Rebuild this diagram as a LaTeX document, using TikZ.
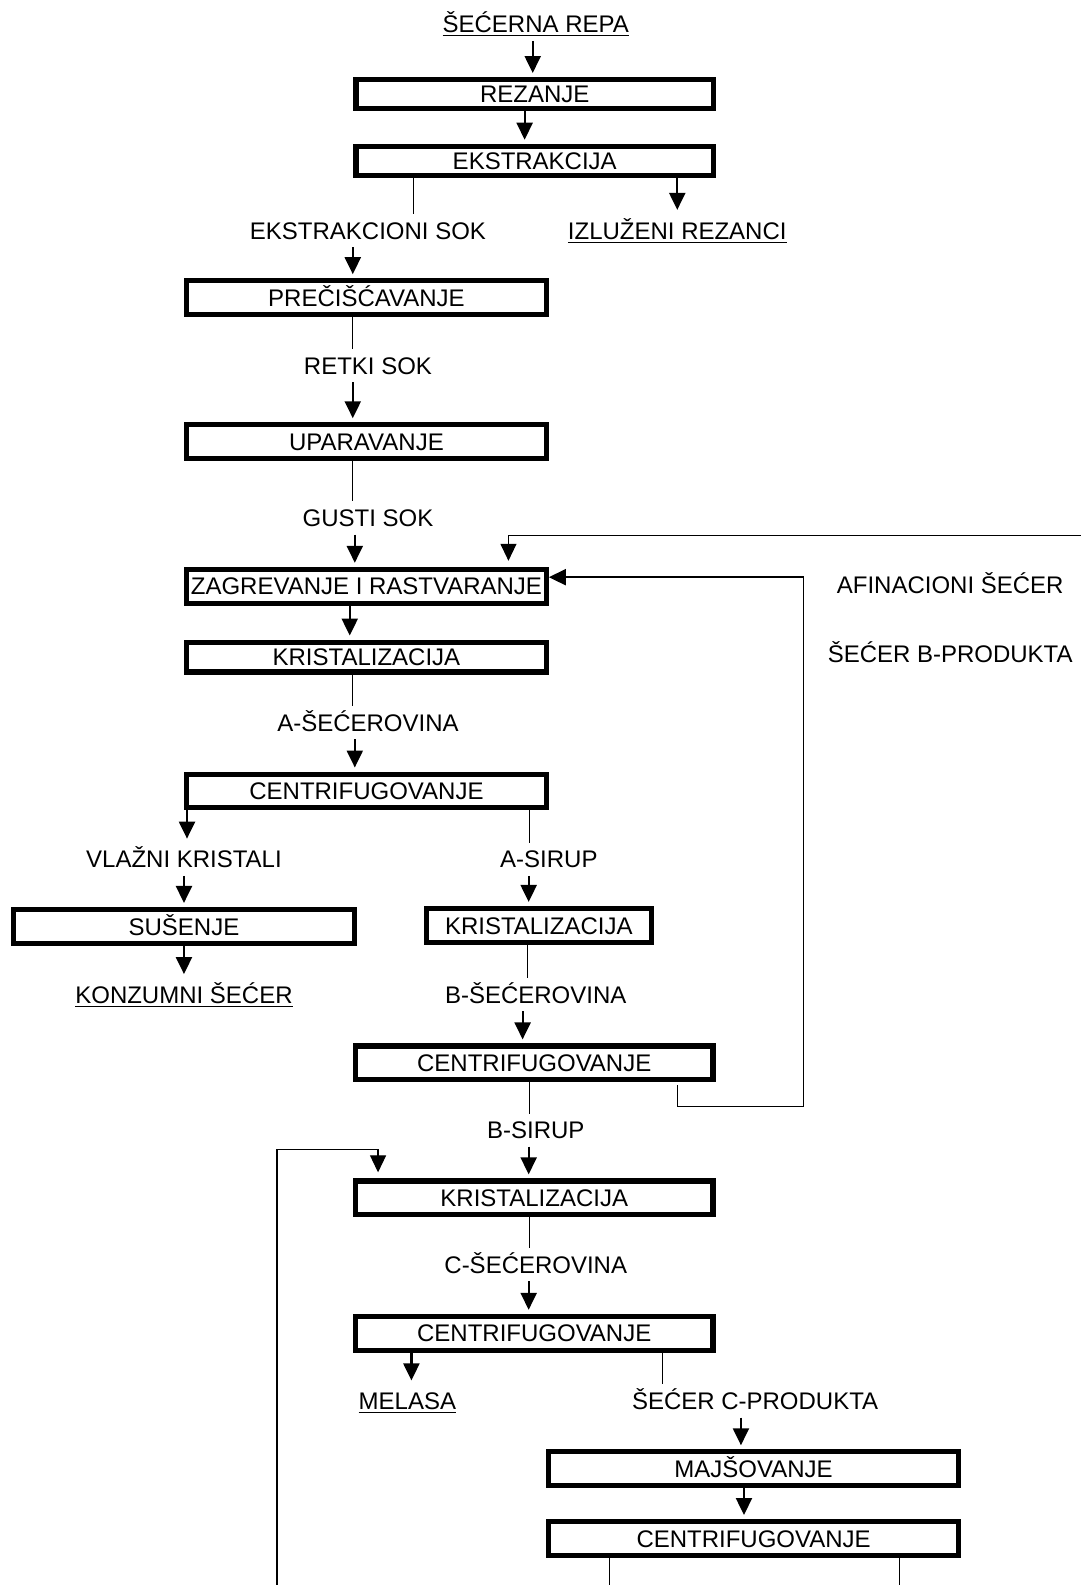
\documentclass[tikz,border=0pt]{standalone}
\usepackage{fontspec}
\setmainfont{Liberation Sans}
\usetikzlibrary{arrows.meta}

\tikzset{
  stage/.style={draw, line width=2.6pt, inner sep=0pt, text height=8.6pt, text depth=0pt, minimum height=16.9pt, minimum width=178.9pt},
  tag/.style={inner sep=0pt, text height=8.6pt, text depth=0pt, outer ysep=4pt},
  flow/.style={line width=1.1pt, -{Triangle[width=8pt,length=8.5pt]}, shorten >=2pt},
  link/.style={line width=0.6pt},
  feed/.style={link, -{Triangle[width=8pt,length=8.5pt]}, shorten >=3pt}
}

\begin{document}
\begin{tikzpicture}[x=0.5056pt, y=-0.5056pt, font=\fontsize{12}{14}\selectfont]
	\useasboundingbox (0,0) rectangle (1069,1568);
	\node[tag] (repa) at (530,24) {\underline{ŠEĆERNA REPA}};
	\node[stage, minimum height=14.4pt] (rez) at (529,93) {REZANJE};
	\node[stage, minimum height=14.4pt] (ekstr) at (529,159) {EKSTRAKCIJA};
	\node[tag] (eksok) at (364,228) {EKSTRAKCIONI SOK};
	\node[tag] (izluz) at (670,228) {\underline{IZLUŽENI REZANCI}};
	\node[stage, minimum width=179.9pt] (precis) at (362.5,294.5) {PREČIŠĆAVANJE};
	\node[tag] (retki) at (364,361.5) {RETKI SOK};
	\node[stage, minimum width=179.9pt] (upar) at (362.5,437) {UPARAVANJE};
	\node[tag] (gusti) at (364,512.5) {GUSTI SOK};
	\node[stage, minimum width=179.9pt] (zagr) at (362.5,580) {ZAGREVANJE I RASTVARANJE};
	\node[tag] (afin) at (940,579) {AFINACIONI ŠEĆER};
	\node[tag] (secb) at (940,647) {ŠEĆER B-PRODUKTA};
	\node[stage, minimum width=179.9pt, minimum height=14.9pt] (krist1) at (362.5,650) {KRISTALIZACIJA};
	\node[tag] (asec) at (364,715) {A-ŠEĆEROVINA};
	\node[stage, minimum width=179.9pt] (centr1) at (362.5,782.5) {CENTRIFUGOVANJE};
	\node[tag] (vlaz) at (182,850) {VLAŽNI KRISTALI};
	\node[tag] (asir) at (543,850) {A-SIRUP};
	\node[stage, minimum width=170.3pt] (susenje) at (182,916.5) {SUŠENJE};
	\node[tag] (konz) at (182,984) {\underline{KONZUMNI ŠEĆER}};
	\node[stage, minimum width=112.7pt] (krist2) at (533,915.5) {KRISTALIZACIJA};
	\node[tag] (bsec) at (530,984) {B-ŠEĆEROVINA};
	\node[stage] (centr2) at (528.5,1051.5) {CENTRIFUGOVANJE};
	\node[tag] (bsir) at (530,1118) {B-SIRUP};
	\node[stage] (krist3) at (528.5,1185) {KRISTALIZACIJA};
	\node[tag] (csec) at (530,1251) {C-ŠEĆEROVINA};
	\node[stage] (centr3) at (528.5,1319) {CENTRIFUGOVANJE};
	\node[tag] (melasa) at (403,1386) {\underline{MELASA}};
	\node[tag] (secc) at (747,1386) {ŠEĆER C-PRODUKTA};
	\node[stage, minimum width=205.2pt] (majs) at (745.5,1453) {MAJŠOVANJE};
	\node[stage, minimum width=205.2pt] (centr4) at (745.5,1522) {CENTRIFUGOVANJE};
	\coordinate (topin) at (1069,530);
	\coordinate (afc) at (795,571);
	\coordinate (bturn) at (795,1095);
	\coordinate (botin) at (274,1568);
	\coordinate (cturn) at (374,1137);
	\coordinate (outa) at (603,1568);
	\coordinate (outb) at (890,1568);
	\draw[flow] (repa.south -| 527,0) -- (rez.north -| 527,0);
	\draw[flow] (rez.south -| 519,0) -- (ekstr.north -| 519,0);
	\draw[link] (ekstr.south -| 409,0) -- (eksok.north -| 409,0);
	\draw[flow] (ekstr.south -| 670,0) -- (izluz.north);
	\draw[flow] (eksok.south -| 349,0) -- (precis.north -| 349,0);
	\draw[link] (precis.south -| 349,0) -- (retki.north -| 349,0);
	\draw[flow] (retki.south -| 349,0) -- (upar.north -| 349,0);
	\draw[link] (upar.south -| 349,0) -- (gusti.north -| 349,0);
	\draw[flow] (gusti.south -| 351,0) -- (zagr.north -| 351,0);
	\draw[feed] (topin) -| (zagr.north -| 503,0);
	\draw[link, shorten <=1.5pt] (centr2.south -| 670,0) |- (bturn) -- (afc);
	\draw[flow, shorten >=0pt] (afc) -- (zagr.east |- afc);
	\draw[flow] (zagr.south -| 346,0) -- (krist1.north -| 346,0);
	\draw[link] (krist1.south -| 349,0) -- (asec.north -| 349,0);
	\draw[flow] (asec.south -| 351,0) -- (centr1.north -| 351,0);
	\draw[flow] (centr1.south -| 185,0) -- (vlaz.north -| 185,0);
	\draw[link] (centr1.south -| 524,0) -- (asir.north -| 524,0);
	\draw[flow] (vlaz.south -| 182,0) -- (susenje.north -| 182,0);
	\draw[flow] (susenje.south -| 182,0) -- (konz.north -| 182,0);
	\draw[flow] (asir.south -| 523,0) -- (krist2.north -| 523,0);
	\draw[link] (krist2.south -| 522,0) -- (bsec.north -| 522,0);
	\draw[flow] (bsec.south -| 517,0) -- (centr2.north -| 517,0);
	\draw[link] (centr2.south -| 524,0) -- (bsir.north -| 524,0);
	\draw[flow] (bsir.south -| 523,0) -- (krist3.north -| 523,0);
	\draw[feed] (botin) |- (cturn) -- (krist3.north -| cturn);
	\draw[link] (krist3.south -| 524,0) -- (csec.north -| 524,0);
	\draw[flow] (csec.south -| 523,0) -- (centr3.north -| 523,0);
	\draw[flow] (centr3.south -| 407,0) -- (melasa.north -| 407,0);
	\draw[link] (centr3.south -| 655,0) -- (secc.north -| 655,0);
	\draw[flow] (secc.south -| 733,0) -- (majs.north -| 733,0);
	\draw[flow] (majs.south -| 736,0) -- (centr4.north -| 736,0);
	\draw[link] (centr4.south -| outa) -- (outa);
	\draw[link] (centr4.south -| outb) -- (outb);
\end{tikzpicture}
\end{document}
